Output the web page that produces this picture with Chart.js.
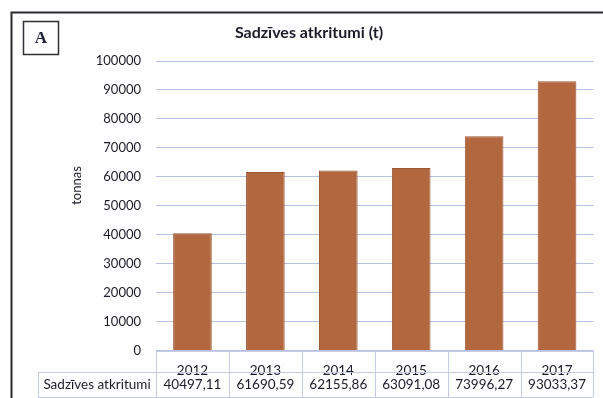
<!DOCTYPE html>
<html>
<head>
<meta charset="utf-8">
<script src="https://cdn.jsdelivr.net/npm/chart.js@4.4.1/dist/chart.umd.min.js"></script>
<style>
  html, body { margin: 0; padding: 0; background: #ffffff; }
  canvas { display: block; }
</style>
</head>
<body>
<canvas id="chart" width="603" height="398"></canvas>
<script>
// Household waste, tonnes per year
const years = ['2012', '2013', '2014', '2015', '2016', '2017'];
const householdWaste = [40497.11, 61690.59, 62155.86, 63091.08, 73996.27, 93033.37];
const seriesName = 'Sadzīves atkritumi';
const chartTitle = 'Sadzīves atkritumi (t)';
const axisTitle = 'tonnas';
const panelLetter = 'A';
const yMin = 0;
const yMax = 100000;
const yStep = 10000;

const FONT = 'Lato, "Liberation Sans", "DejaVu Sans", sans-serif';
const TEXT = '#1b1b28';
const GRID = '#b9c0e3';
const TABLE_LINE = '#c6cbe2';
const BAR = '#b3673f';
const BAR_EDGE = '#9a5632';

const fmt = v => v.toFixed(2).replace('.', ',');

// Frame, panel letter, title, axis title and the data table under the axis
const decorations = {
  id: 'decorations',
  beforeDraw(chart) {
    const ctx = chart.ctx;
    ctx.save();
    ctx.fillStyle = '#fefefe';
    ctx.fillRect(0, 0, chart.width, chart.height);
    ctx.restore();
  },
  afterDraw(chart) {
    const ctx = chart.ctx;
    const area = chart.chartArea;
    const xs = chart.scales.x;
    const n = years.length;
    const half = (xs.getPixelForValue(1) - xs.getPixelForValue(0)) / 2;
    const rowTop = area.bottom;
    const rowMid = rowTop + 21.5;
    const rowEnd = rowTop + 46.5;

    ctx.save();
    // outer frame
    ctx.strokeStyle = '#2a2a2e';
    ctx.lineWidth = 2;
    ctx.beginPath();
    ctx.moveTo(11.5, chart.height);
    ctx.lineTo(11.5, 12.5);
    ctx.lineTo(chart.width, 12.5);
    ctx.stroke();

    // panel letter box
    ctx.lineWidth = 1.5;
    ctx.strokeStyle = '#303036';
    ctx.strokeRect(23.5, 21.5, 35, 33);
    ctx.fillStyle = '#1d1d33';
    ctx.font = 'bold 17px "Liberation Serif", "DejaVu Serif", serif';
    ctx.textAlign = 'center';
    ctx.textBaseline = 'middle';
    ctx.fillText(panelLetter, 41, 39);

    // chart title
    ctx.fillStyle = TEXT;
    ctx.font = 'bold 16px ' + FONT;
    ctx.fillText(chartTitle, 309, 33);

    // value axis title
    ctx.save();
    ctx.translate(77, area.top + (area.bottom - area.top) * 0.43);
    ctx.rotate(-Math.PI / 2);
    ctx.font = '13px ' + FONT;
    ctx.fillText(axisTitle, 0, 0);
    ctx.restore();

    // data table grid
    ctx.strokeStyle = TABLE_LINE;
    ctx.lineWidth = 1;
    const left = xs.getPixelForValue(0) - half;
    const right = xs.getPixelForValue(n - 1) + half;
    ctx.beginPath();
    ctx.moveTo(left, Math.round(rowTop) + 0.5);
    ctx.lineTo(right, Math.round(rowTop) + 0.5);
    ctx.moveTo(38, Math.round(rowMid) + 0.5);
    ctx.lineTo(right, Math.round(rowMid) + 0.5);
    ctx.moveTo(38, Math.round(rowEnd) + 0.5);
    ctx.lineTo(right, Math.round(rowEnd) + 0.5);
    ctx.moveTo(38.5, Math.round(rowMid));
    ctx.lineTo(38.5, Math.round(rowEnd));
    for (let i = 0; i <= n; i++) {
      const x = Math.round(xs.getPixelForValue(i) - half) + 0.5;
      ctx.moveTo(x, Math.round(rowTop));
      ctx.lineTo(x, Math.round(rowEnd));
    }
    ctx.stroke();

    // data table values
    ctx.fillStyle = TEXT;
    ctx.font = '13.5px ' + FONT;
    ctx.textAlign = 'center';
    ctx.textBaseline = 'middle';
    const valueY = (rowMid + rowEnd) / 2;
    ctx.fillText(seriesName, (38 + left) / 2, valueY);
    householdWaste.forEach((v, i) => {
      ctx.fillText(fmt(v), xs.getPixelForValue(i), valueY);
    });
    ctx.restore();
  }
};

new Chart(document.getElementById('chart'), {
  type: 'bar',
  data: {
    labels: years,
    datasets: [{
      label: seriesName,
      data: householdWaste,
      backgroundColor: BAR,
      borderColor: BAR_EDGE,
      borderWidth: 1,
      categoryPercentage: 1,
      barPercentage: 0.53
    }]
  },
  options: {
    responsive: false,
    animation: false,
    layout: { padding: { top: 61, left: 0, right: 9.5, bottom: 0 } },
    plugins: {
      legend: { display: false },
      title: { display: false },
      tooltip: { enabled: false }
    },
    scales: {
      x: {
        grid: { display: false },
        border: { display: false },
        ticks: { color: TEXT, font: { family: FONT, size: 13.5 }, padding: 4 },
        afterFit(scale) { scale.height = 47.4; }
      },
      y: {
        min: yMin,
        max: yMax,
        grid: { color: GRID, drawTicks: false },
        border: { display: false },
        ticks: {
          stepSize: yStep,
          color: TEXT,
          font: { family: FONT, size: 13 },
          padding: 15,
          callback: v => String(v)
        },
        afterFit(scale) { scale.width = 156; }
      }
    }
  },
  plugins: [decorations]
});
</script>
</body>
</html>
